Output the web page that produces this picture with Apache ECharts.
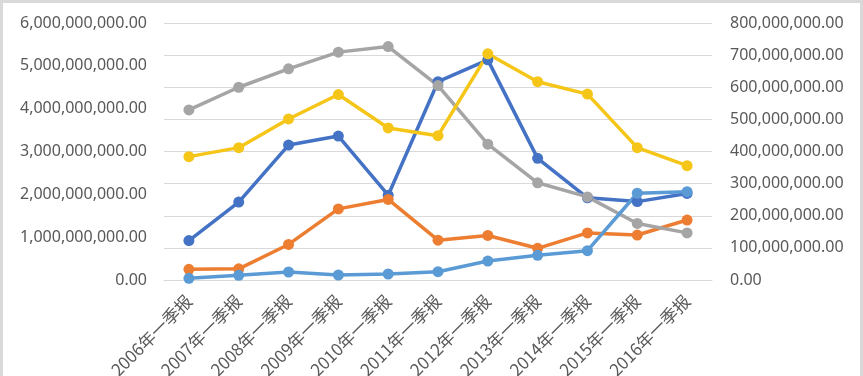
<!DOCTYPE html>
<html>
<head>
<meta charset="utf-8">
<script src="https://cdn.jsdelivr.net/npm/echarts@6/dist/echarts.min.js"></script>
<style>
html,body{margin:0;padding:0;background:#fff;}
#chart{width:863px;height:376px;}
</style>
</head>
<body>
<div id="chart"></div>
<script>
var categories = ['2006年一季报','2007年一季报','2008年一季报','2009年一季报','2010年一季报','2011年一季报','2012年一季报','2013年一季报','2014年一季报','2015年一季报','2016年一季报'];
// left axis series
var seriesBlue   = [0.92e9, 1.82e9, 3.15e9, 3.36e9, 1.98e9, 4.63e9, 5.14e9, 2.84e9, 1.92e9, 1.83e9, 2.02e9];
var seriesOrange = [0.25e9, 0.26e9, 0.83e9, 1.66e9, 1.88e9, 0.93e9, 1.04e9, 0.74e9, 1.10e9, 1.05e9, 1.40e9];
var seriesGray   = [3.97e9, 4.50e9, 4.93e9, 5.32e9, 5.45e9, 4.54e9, 3.17e9, 2.27e9, 1.94e9, 1.32e9, 1.10e9];
var seriesYellow = [2.88e9, 3.09e9, 3.76e9, 4.33e9, 3.55e9, 3.37e9, 5.28e9, 4.63e9, 4.34e9, 3.09e9, 2.67e9];
// right axis series
var seriesLightBlue = [5.3e6, 14.6e6, 24.9e6, 15.6e6, 18.7e6, 25.8e6, 59.1e6, 76.9e6, 91.2e6, 270e6, 275e6];

function fmt(v){
  var s = Math.round(v).toString().replace(/\B(?=(\d{3})+(?!\d))/g, ',');
  return s + '.00';
}
var chart = echarts.init(document.getElementById('chart'), null, {renderer:'canvas'});
function mk(name, data, color, yIdx){
  return {
    name: name, type: 'line', data: data, yAxisIndex: yIdx,
    symbol: 'circle', symbolSize: 11,
    lineStyle: {color: color, width: 3.5},
    itemStyle: {color: color},
    animation: false
  };
}
var font = '"Noto Sans", "Noto Sans CJK SC", sans-serif';
chart.setOption({
  animation: false,
  backgroundColor: '#fff',
  graphic: [{
    type: 'rect', shape: {x: 1.5, y: 1.5, width: 860, height: 380},
    style: {fill: 'none', stroke: '#D9D9D9', lineWidth: 3}, silent: true
  }],
  grid: {left: 164, right: 151, top: 23, bottom: 96, containLabel: false, outerBoundsMode: 'none'},
  xAxis: {
    type: 'category', data: categories, boundaryGap: true,
    axisLine: {show: true, lineStyle: {color: '#D9D9D9', width: 1}},
    axisTick: {show: false},
    axisLabel: {rotate: 45, color: '#595959', fontSize: 17, fontFamily: '"Noto Sans CJK SC", sans-serif', margin: 18, interval: 0}
  },
  yAxis: [{
    type: 'value', min: 0, max: 6e9, interval: 1e9, position: 'left',
    splitLine: {show: false},
    axisLine: {show: false}, axisTick: {show: false},
    axisLabel: {color: '#595959', fontSize: 16, fontFamily: font, margin: 17, formatter: fmt}
  },{
    type: 'value', min: 0, max: 8e8, interval: 1e8, position: 'right',
    splitLine: {show: true, lineStyle: {color: '#D9D9D9', width: 1}},
    axisLine: {show: false}, axisTick: {show: false},
    axisLabel: {color: '#595959', fontSize: 16, fontFamily: font, margin: 18, formatter: fmt}
  }],
  series: [
    mk('系列1', seriesBlue, '#4472C4', 0),
    mk('系列2', seriesOrange, '#ED7D31', 0),
    mk('系列3', seriesGray, '#A5A5A5', 0),
    mk('系列4', seriesYellow, '#F5C518', 0),
    mk('系列5', seriesLightBlue, '#5B9BD5', 1)
  ]
});
</script>
</body>
</html>
